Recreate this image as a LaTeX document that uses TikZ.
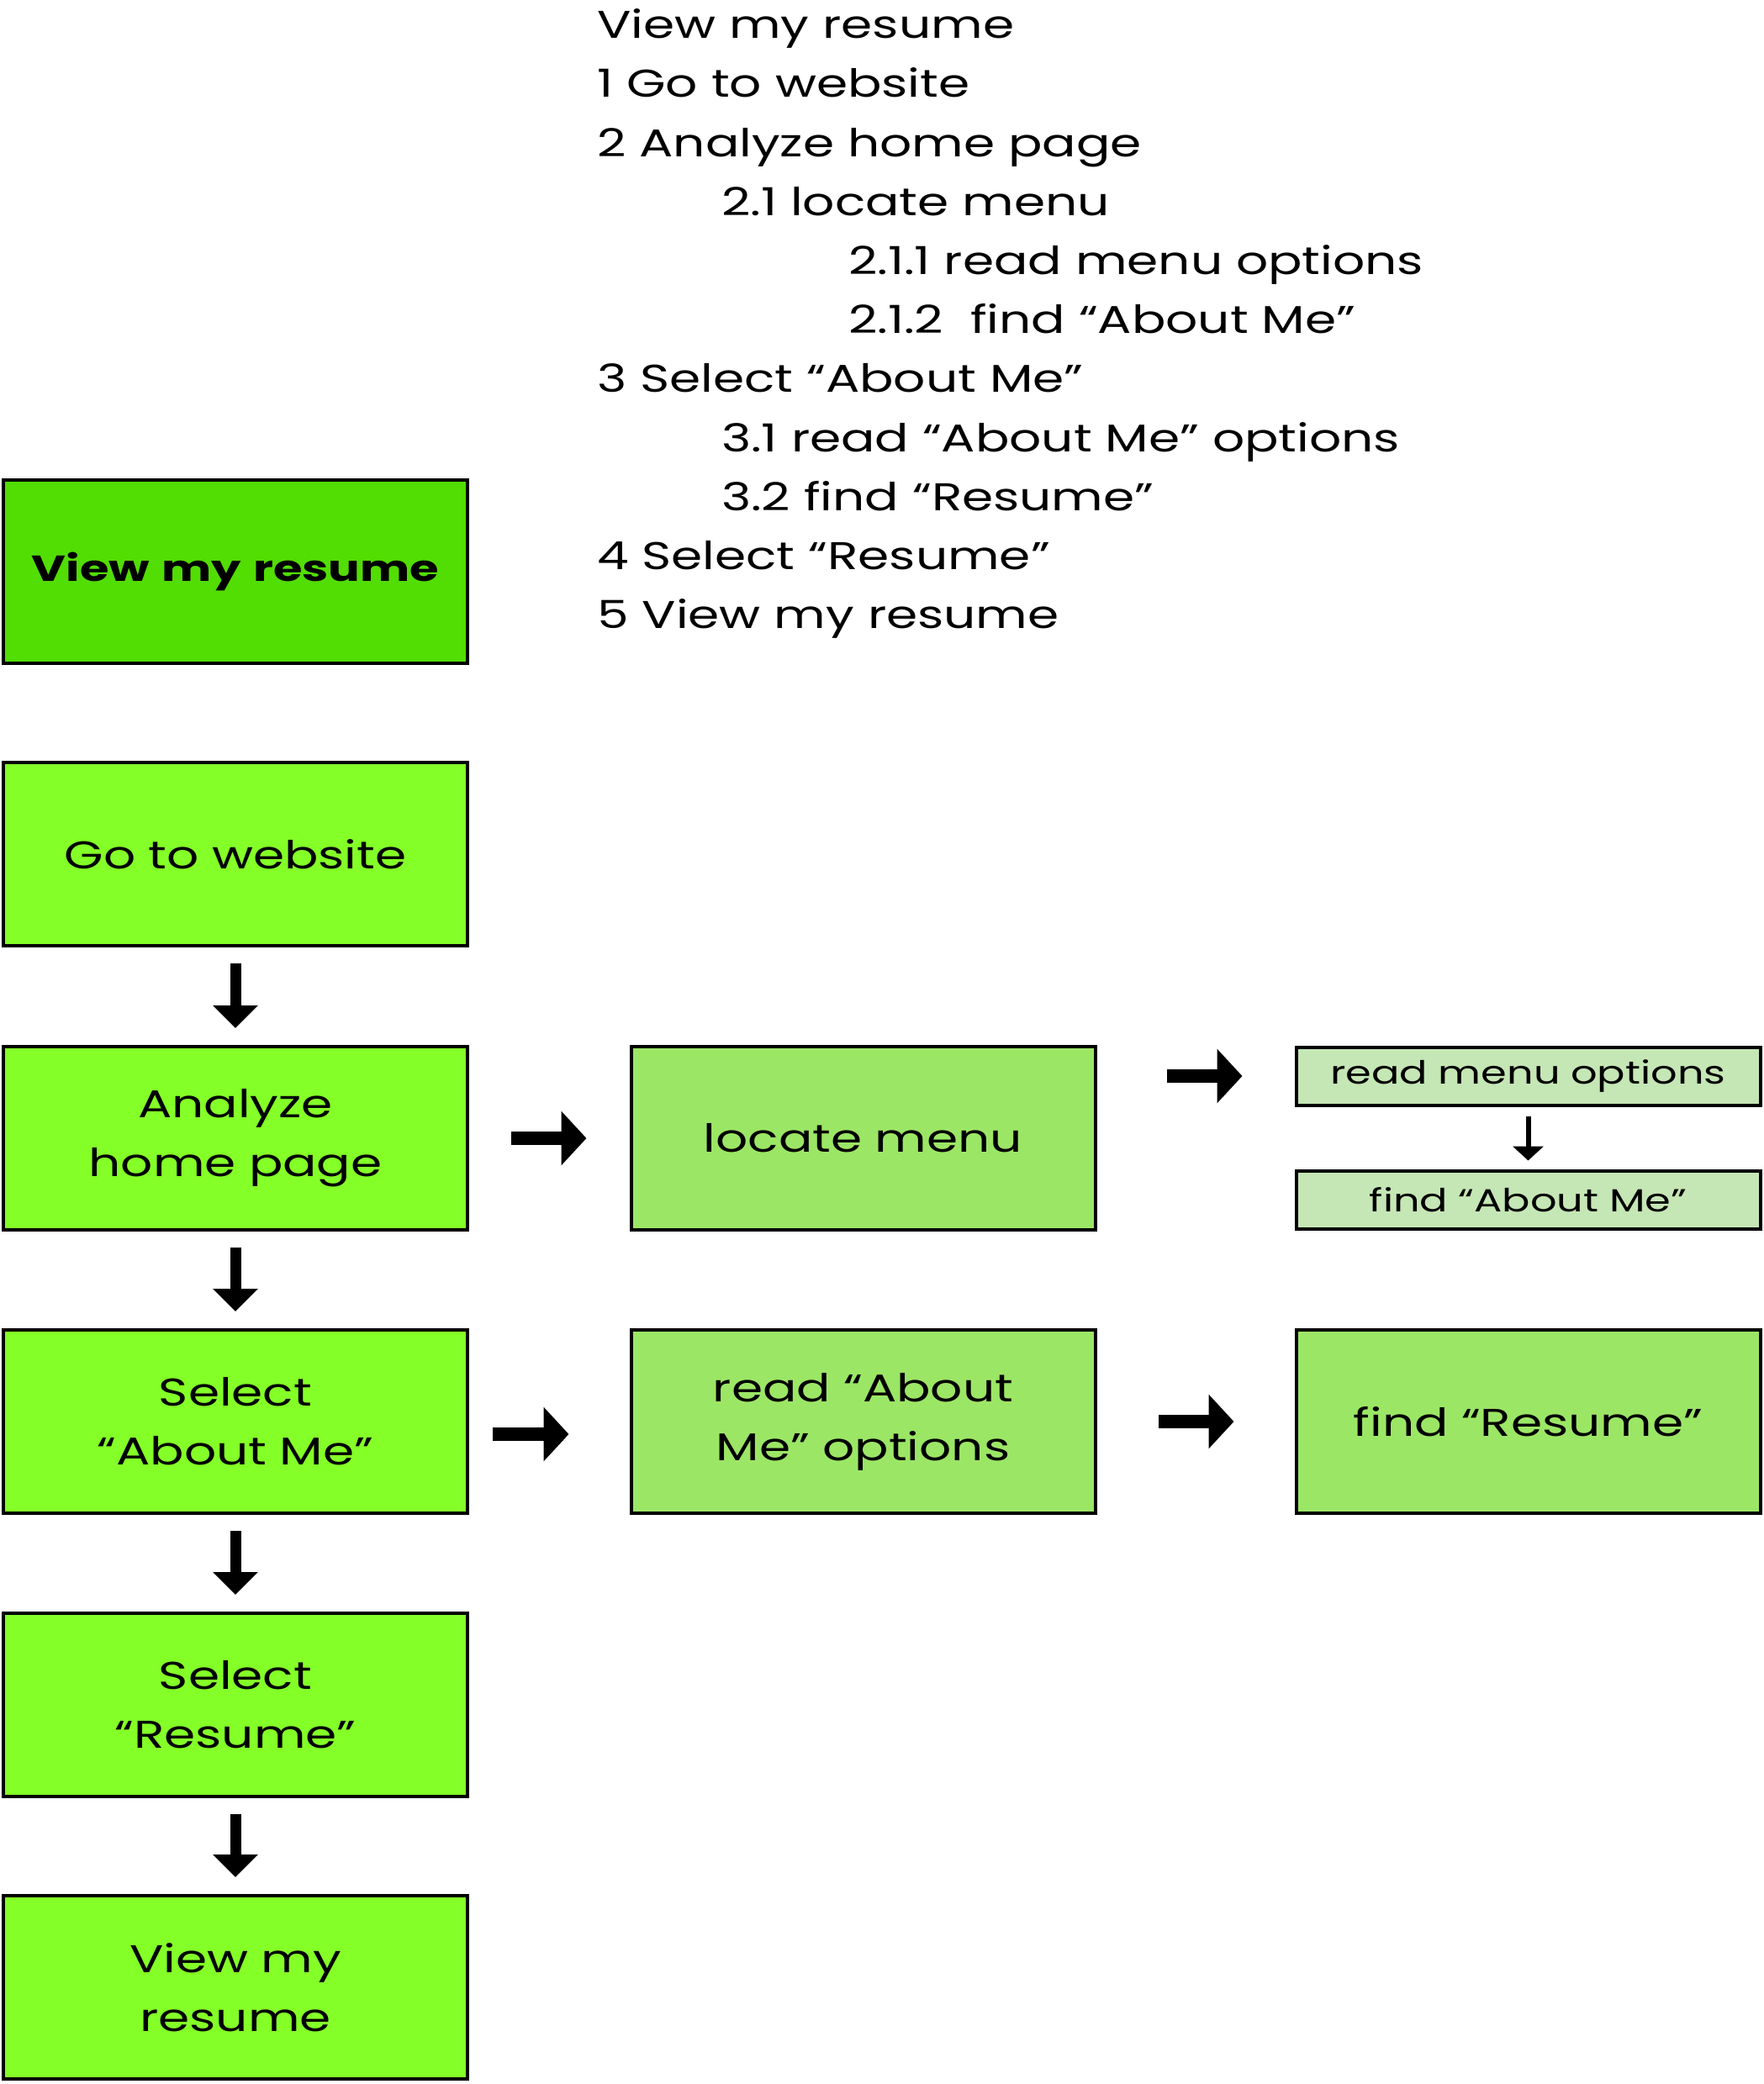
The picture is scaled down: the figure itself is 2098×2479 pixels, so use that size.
\documentclass[tikz,border=0pt]{standalone}
\usepackage{fontspec}
\setmainfont{Poppins}[FakeStretch=1.3]
\usetikzlibrary{arrows.meta}
\definecolor{titlegreen}{HTML}{52DD03}
\definecolor{stepgreen}{HTML}{84FF27}
\definecolor{subgreen}{HTML}{9CE666}
\definecolor{leafgreen}{HTML}{C5E6B5}
\newcommand{\bodyfont}{\fontsize{46}{70}\selectfont}
\newcommand{\headfont}{\fontsize{43}{70}\selectfont\bfseries}
\newcommand{\leaffont}{\fontsize{38}{60}\selectfont}
\begin{document}
\begin{tikzpicture}[x=1pt,y=-1pt,
  box/.style={draw=black, line width=4pt, minimum width=552pt, minimum height=218pt,
    inner sep=0pt, align=center, font=\bodyfont, text width=500pt},
  titlebox/.style={box, fill=titlegreen, font=\headfont},
  stepbox/.style={box, fill=stepgreen},
  subbox/.style={box, fill=subgreen},
  leafbox/.style={box, fill=leafgreen, minimum height=69pt, font=\leaffont},
  listline/.style={anchor=base west, inner sep=0pt, font=\bodyfont},
  bigdown/.style={line width=13pt, -{Triangle[length=27pt,width=52pt]}},
  bigright/.style={line width=16pt, -{Triangle[length=30pt,width=63pt]}},
  smalldown/.style={line width=6pt, -{Triangle[length=17pt,width=36pt]}}]
\useasboundingbox (0,0) rectangle (2098,2479);

% outline of the task
\node[listline] (l0) at (710,45) {View my resume};
\node[listline] (l1) at (710,115) {1 Go to website};
\node[listline] (l2) at (710,186) {2 Analyze home page};
\node[listline] (l3) at (858,256) {2.1 locate menu};
\node[listline] (l4) at (1009,326) {2.1.1 read menu options};
\node[listline] (l5) at (1009,396) {2.1.2\ \ find “About Me”};
\node[listline] (l6) at (710,466) {3 Select “About Me”};
\node[listline] (l7) at (858,537) {3.1 read “About Me” options};
\node[listline] (l8) at (858,607) {3.2 find “Resume”};
\node[listline] (l9) at (710,677) {4 Select “Resume”};
\node[listline] (l10) at (710,747) {5 View my resume};

% main column
\node[titlebox] (title) at (280,680) {View my resume};
\node[stepbox] (go) at (280,1016) {Go to website};
\node[stepbox] (analyze) at (280,1354) {Analyze\\home page};
\node[stepbox] (selabout) at (280,1691) {Select\\“About Me”};
\node[stepbox] (selres) at (280,2028) {Select\\“Resume”};
\node[stepbox] (view) at (280,2364) {View my\\resume};

% second level
\node[subbox] (locate) at (1026.5,1354) {locate menu};
\node[subbox] (readabout) at (1026.5,1691) {read “About\\Me” options};

% third level
\node[leafbox] (readmenu) at (1817.5,1280) {read menu options};
\node[leafbox] (findabout) at (1817.5,1427) {find “About Me”};
\node[subbox] (findres) at (1817.5,1691) {find “Resume”};

% connectors
\draw[bigdown, shorten <=19pt, shorten >=20pt] (go.south) -- (analyze.north);
\draw[bigdown, shorten <=19pt, shorten >=20pt] (analyze.south) -- (selabout.north);
\draw[bigdown, shorten <=19pt, shorten >=20pt] (selabout.south) -- (selres.north);
\draw[bigdown, shorten <=19pt, shorten >=20pt] (selres.south) -- (view.north);

\draw[bigright, shorten <=50pt, shorten >=51pt] (analyze.east) -- (locate.west);
\coordinate (locout) at (locate.east |- readmenu.west);
\draw[bigright, shorten <=83pt, shorten >=62pt] (locout) -- (readmenu.west);
\draw[smalldown, shorten <=11pt, shorten >=10pt] (readmenu.south) -- (findabout.north);

\coordinate (selout) at ([yshift=-15pt]selabout.east);
\coordinate (readin) at ([yshift=-15pt]readabout.west);
\draw[bigright, shorten <=28pt, shorten >=72pt] (selout) -- (readin);
\draw[bigright, shorten <=73pt, shorten >=72pt] (readabout.east) -- (findres.west);
\end{tikzpicture}
\end{document}
